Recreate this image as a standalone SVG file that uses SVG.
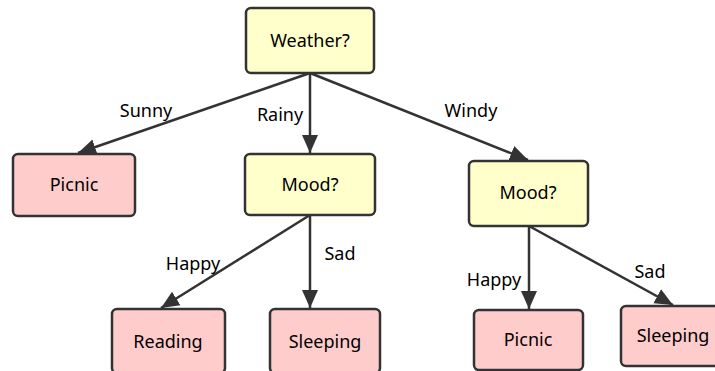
<svg xmlns="http://www.w3.org/2000/svg" width="715" height="371" viewBox="0 0 715 371">
  <style>
    .q { fill: #ffffcc; stroke: #333333; stroke-width: 2.5; }
    .a { fill: #ffcccc; stroke: #333333; stroke-width: 2.5; }
    .t { font-family: "Noto Sans", "Open Sans", sans-serif; font-size: 18px; fill: #000000; text-anchor: middle; }
    .e { fill: none; stroke: #333333; stroke-width: 2.5; marker-end: url(#head); }
  </style>
  <defs>
    <marker id="head" markerUnits="userSpaceOnUse" markerWidth="20" markerHeight="20" viewBox="0 0 20 20" refX="18" refY="10" orient="auto">
      <path d="M0,2 L18,10 L0,18 Z" fill="#333333"/>
    </marker>
  </defs>

  <!-- background -->
  <rect width="715" height="371" fill="#ffffff"/>

  <!-- connectors -->
  <g id="edges">
    <path class="e" d="M310,73 L78,153"/>
    <path class="e" d="M310,73 L310,153"/>
    <path class="e" d="M310,73 L528,160"/>
    <path class="e" d="M310,215 L161,308"/>
    <path class="e" d="M310,215 L310,308"/>
    <path class="e" d="M529,226 L529,309"/>
    <path class="e" d="M529,226 L673,305"/>
  </g>

  <!-- connector labels -->
  <g id="edge-labels">
    <text class="t" x="146" y="117">Sunny</text>
    <text class="t" x="280" y="121">Rainy</text>
    <text class="t" x="471" y="117">Windy</text>
    <text class="t" x="193" y="270">Happy</text>
    <text class="t" x="340" y="260">Sad</text>
    <text class="t" x="494" y="286">Happy</text>
    <text class="t" x="650" y="278">Sad</text>
  </g>

  <!-- nodes -->
  <g id="weather">
    <rect class="q" x="246" y="8" width="128" height="65" rx="5"/>
    <text class="t" x="310" y="47">Weather?</text>
  </g>
  <g id="picnic-sunny">
    <rect class="a" x="13" y="154" width="122" height="62" rx="5"/>
    <text class="t" x="74" y="191">Picnic</text>
  </g>
  <g id="mood-rainy">
    <rect class="q" x="245" y="154" width="130" height="61" rx="5"/>
    <text class="t" x="310" y="191">Mood?</text>
  </g>
  <g id="mood-windy">
    <rect class="q" x="469" y="161" width="119" height="65" rx="5"/>
    <text class="t" x="528" y="199">Mood?</text>
  </g>
  <g id="reading">
    <rect class="a" x="112" y="309" width="113" height="64" rx="5"/>
    <text class="t" x="168" y="348">Reading</text>
  </g>
  <g id="sleeping-rainy">
    <rect class="a" x="270" y="309" width="110" height="64" rx="5"/>
    <text class="t" x="325" y="348">Sleeping</text>
  </g>
  <g id="picnic-windy">
    <rect class="a" x="474" y="310" width="109" height="60" rx="5"/>
    <text class="t" x="528" y="346">Picnic</text>
  </g>
  <g id="sleeping-windy">
    <rect class="a" x="621" y="306" width="110" height="60" rx="5"/>
    <text class="t" x="673" y="342">Sleeping</text>
  </g>
</svg>
